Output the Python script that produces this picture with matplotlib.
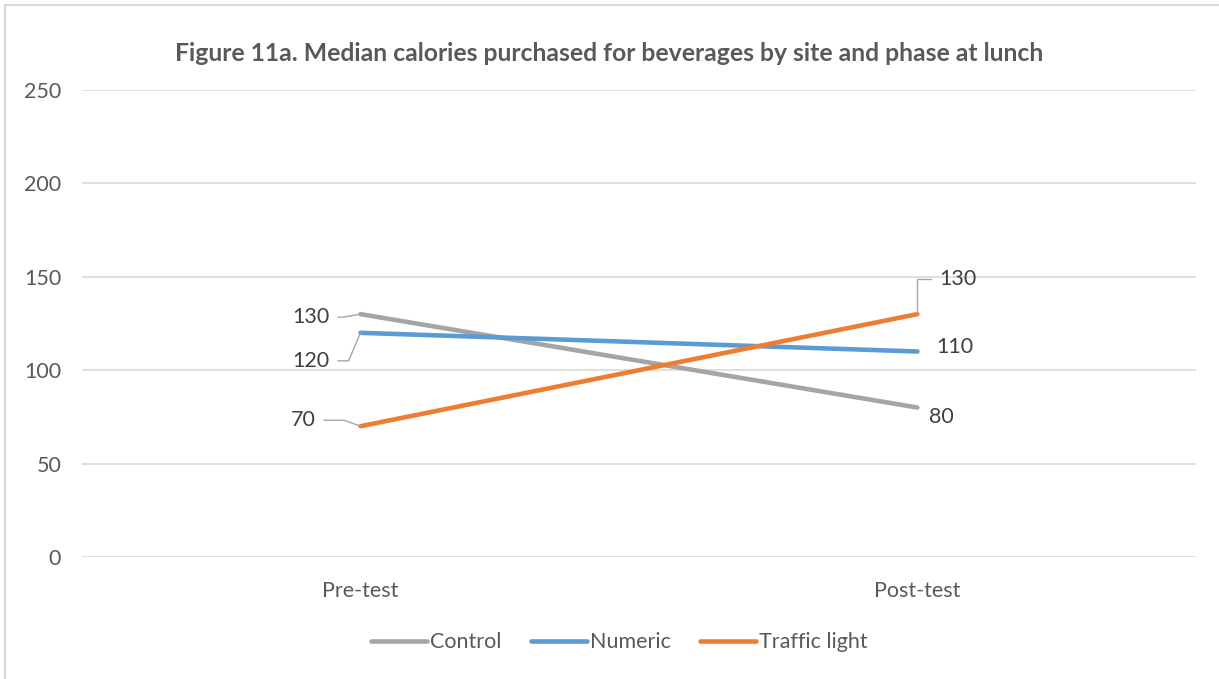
import matplotlib
matplotlib.use("Agg")
import matplotlib.pyplot as plt
from matplotlib.patches import Rectangle

# median beverage calories at lunch, by phase
phases = ["Pre-test", "Post-test"]
control = [130, 80]
numeric = [120, 110]
traffic_light = [70, 130]

series_names = ["Control", "Numeric", "Traffic light"]
series_values = [control, numeric, traffic_light]
series_colors = ["#A5A5A5", "#5B9BD5", "#ED7D31"]

y_ticks = [0, 50, 100, 150, 200, 250]

text_color = "#595959"
grid_color = "#D9D9D9"

plt.rcParams["font.family"] = ["Lato", "DejaVu Sans"]

fig = plt.figure(figsize=(12.19, 6.79), dpi=100)
ax = fig.add_axes([0.0673, 0.1797, 0.9137, 0.6878])

x = list(range(len(phases)))
for name, vals, col in zip(series_names, series_values, series_colors):
    ax.plot(x, vals, color=col, lw=3.3, solid_capstyle="round", label=name, zorder=3)

ax.set_xlim(-0.5, len(phases) - 0.5)
ax.set_ylim(0, 250)
ax.set_yticks(y_ticks)
ax.set_xticks(x)
ax.set_xticklabels(phases)
ax.tick_params(length=0, labelsize=15.5, colors=text_color)
ax.tick_params(axis="y", pad=15)
ax.tick_params(axis="x", pad=17)
ax.grid(axis="y", color=grid_color, lw=1.2)
ax.set_axisbelow(True)
for s in ax.spines.values():
    s.set_visible(False)

# data labels: (series index, point index, offset in pixels, alignment, leader style)
leader = "#A6A6A6"
labels = [
    (0, 0, (-31, -3), "right", "angle,angleA=0,angleB=10,rad=0"),
    (1, 0, (-31, -28), "right", "angle,angleA=0,angleB=67,rad=0"),
    (2, 0, (-45, 6), "right", "angle,angleA=0,angleB=-20,rad=0"),
    (2, 1, (22, 35), "left", "angle,angleA=0,angleB=90,rad=0"),
    (1, 1, (19, 4), "left", None),
    (0, 1, (12, -9), "left", None),
]
for si, pi, off, ha, conn in labels:
    val = series_values[si][pi]
    kw = {}
    if conn is not None:
        kw["arrowprops"] = dict(arrowstyle="-", color=leader, lw=1,
                                connectionstyle=conn, shrinkA=4, shrinkB=0,
                                relpos=(1, 0.5) if ha == "right" else (0, 0.5))
    ax.annotate(str(val), xy=(pi, val), xytext=off, textcoords="offset pixels",
                ha=ha, va="center", fontsize=15.5, color="#404040", **kw)

fig.text(0.5, 0.921, "Figure 11a. Median calories purchased for beverages by site and phase at lunch",
         ha="center", va="center", fontsize=17.8, fontweight="bold", color=text_color)

fig.legend(loc="center", bbox_to_anchor=(0.508, 0.054), ncol=3, frameon=False,
           fontsize=15.5, handlelength=2.6, handletextpad=0.15, columnspacing=1.35,
           labelcolor=text_color)

# chart frame
fig.patches.append(Rectangle((5 / 1219, -0.1), 1.2, 1 - 5 / 679 + 0.1,
                             transform=fig.transFigure, fill=False,
                             edgecolor=grid_color, lw=1.5))

fig.savefig("out.png", dpi=100, facecolor="white")
